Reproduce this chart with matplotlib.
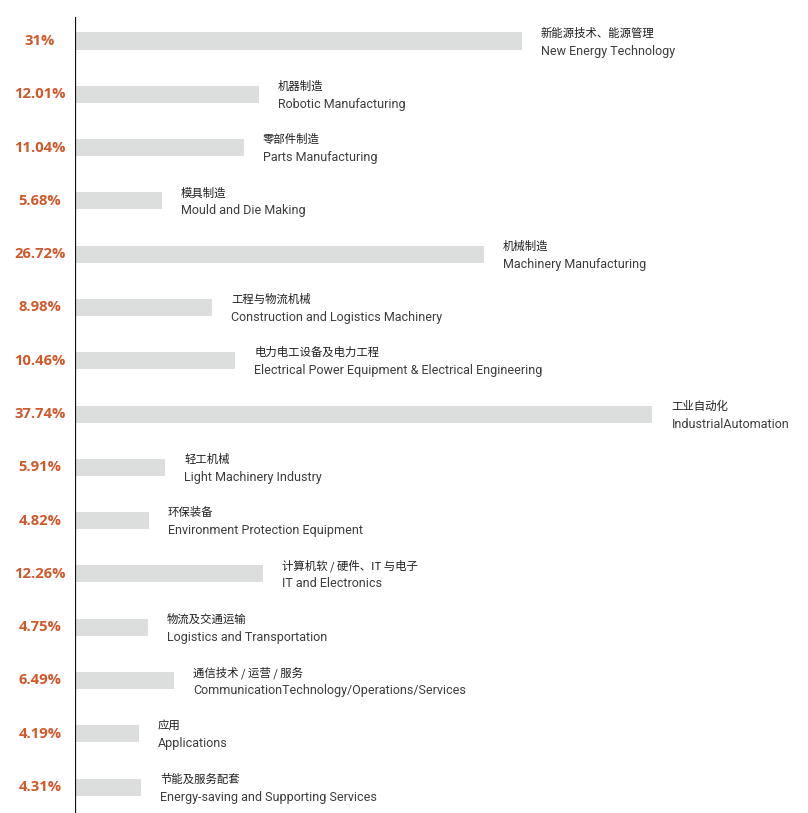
import matplotlib
matplotlib.use('Agg')
import matplotlib.pyplot as plt

# Percent labels as printed, and bar lengths as drawn in the picture
pct_labels = ['31%', '12.01%', '11.04%', '5.68%', '26.72%', '8.98%', '10.46%', '37.74%',
              '5.91%', '4.82%', '12.26%', '4.75%', '6.49%', '4.19%', '4.31%']
bar_values = [29.2, 12.01, 11.04, 5.68, 26.72, 8.98, 10.46, 37.74,
              5.91, 4.82, 12.26, 4.75, 6.49, 4.19, 4.31]
names_cn = ['新能源技术、能源管理', '机器制造', '零部件制造', '模具制造', '机械制造',
            '工程与物流机械', '电力电工设备及电力工程', '工业自动化', '轻工机械', '环保装备',
            '计算机软 / 硬件、IT 与电子', '物流及交通运输', '通信技术 / 运营 / 服务', '应用',
            '节能及服务配套']
names_en = ['New Energy Technology', 'Robotic Manufacturing', 'Parts Manufacturing',
            'Mould and Die Making', 'Machinery Manufacturing',
            'Construction and Logistics Machinery',
            'Electrical Power Equipment & Electrical Engineering', 'IndustrialAutomation',
            'Light Machinery Industry', 'Environment Protection Equipment', 'IT and Electronics',
            'Logistics and Transportation', 'CommunicationTechnology/Operations/Services',
            'Applications', 'Energy-saving and Supporting Services']

W, H = 808, 813
fig = plt.figure(figsize=(W / 100, H / 100), dpi=100)
ax = fig.add_axes([75 / W, 0, 1 - 75 / W, 1])

# pixel geometry
x0, px_per_pct = 75, 15.3
y_first, y_step = 41, 53.29

pos = list(range(len(bar_values)))
ax.barh(pos, bar_values, height=0.32, color='#dcdddd', left=0)

ax.set_xlim(0, (W - x0) / px_per_pct)
ax.set_ylim(len(pos) - 1 + (H - (y_first + y_step * (len(pos) - 1))) / y_step, -y_first / y_step)
ax.axis('off')

# left axis line
ax.axvline(0, ymin=0, ymax=1 - 18 / H, color='#111111', lw=1.6)

for i in pos:
    ax.annotate(pct_labels[i], xy=(0, i), xytext=(-35, 0), textcoords='offset pixels',
                ha='center', va='center', color='#d0582a', fontsize=10.6,
                fontweight='bold', family=['Open Sans', 'DejaVu Sans'])
    ax.annotate(names_cn[i], xy=(bar_values[i], i), xytext=(19, 8), textcoords='offset pixels',
                ha='left', va='center', color='#1e1e1e', fontsize=8.2,
                family=['Noto Sans CJK SC', 'DejaVu Sans'])
    ax.annotate(names_en[i], xy=(bar_values[i], i), xytext=(19, -10), textcoords='offset pixels',
                ha='left', va='center', color='#3c3c3c', fontsize=9.0,
                family=['Roboto', 'DejaVu Sans'])

fig.savefig('out.png', dpi=100)
